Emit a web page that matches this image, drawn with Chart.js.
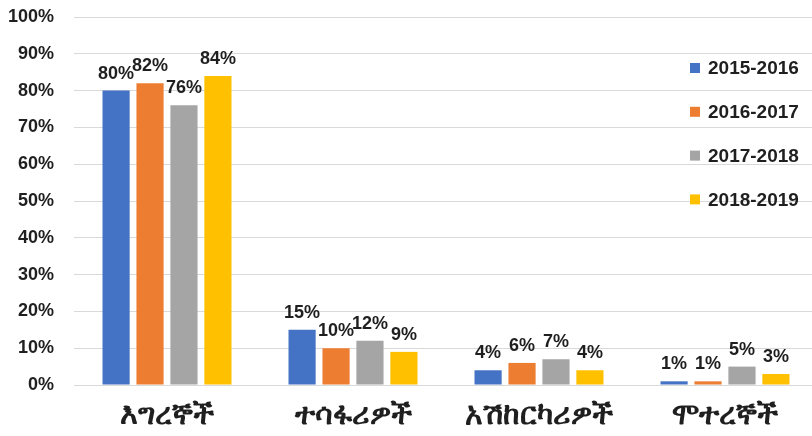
<!DOCTYPE html>
<html>
<head>
<meta charset="utf-8">
<script src="https://cdn.jsdelivr.net/npm/chart.js@4/dist/chart.umd.min.js"></script>
<style>
  html, body { margin: 0; padding: 0; background: #fff; overflow: hidden; }
  #wrap { width: 818px; height: 436px; position: relative; }
  canvas { display: block; }
</style>
</head>
<body>
<div id="wrap"><canvas id="c" width="818" height="436"></canvas></div>
<script>
// Road-accident victims by group, share per fiscal year
const categories = ['እግረኞች', 'ተሳፋሪዎች', 'አሽከርካሪዎች', 'ሞተረኞች'];
const years = ['2015-2016', '2016-2017', '2017-2018', '2018-2019'];
const values2015 = [80, 15, 4, 1];
const values2016 = [82, 10, 6, 1];
const values2017 = [76, 12, 7, 5];
const values2018 = [84, 9, 4, 3];
const yTicks = [0, 10, 20, 30, 40, 50, 60, 70, 80, 90, 100];
const colors = ['#4472C4', '#ED7D31', '#A5A5A5', '#FFC000'];

const series = [values2015, values2016, values2017, values2018];
const FONT = '"Liberation Sans", Arial, sans-serif';
const TEXT = '#1f1f1f';

// Percentage labels above each bar
const valueLabels = {
  id: 'valueLabels',
  afterDatasetsDraw(chart) {
    const ctx = chart.ctx;
    ctx.save();
    ctx.font = 'bold 18px ' + FONT;
    ctx.fillStyle = TEXT;
    ctx.textAlign = 'center';
    ctx.textBaseline = 'bottom';
    chart.data.datasets.forEach((ds, i) => {
      chart.getDatasetMeta(i).data.forEach((bar, j) => {
        ctx.fillText(ds.data[j] + '%', bar.x, bar.y - 8);
      });
    });
    ctx.restore();
  }
};

// Legend stacked inside the plot, near the right edge
const insideLegend = {
  id: 'insideLegend',
  afterDraw(chart) {
    const ctx = chart.ctx;
    const x0 = 690, y0 = 68, step = 43.8;
    ctx.save();
    ctx.font = 'bold 19px ' + FONT;
    ctx.textAlign = 'left';
    ctx.textBaseline = 'middle';
    chart.data.datasets.forEach((ds, i) => {
      const y = y0 + i * step;
      ctx.fillStyle = ds.backgroundColor;
      ctx.fillRect(x0, y - 5, 10, 10);
      ctx.fillStyle = TEXT;
      ctx.fillText(ds.label, x0 + 18, y + 1);
    });
    ctx.restore();
  }
};

new Chart(document.getElementById('c'), {
  type: 'bar',
  data: {
    labels: categories,
    datasets: years.map((y, i) => ({
      label: y,
      data: series[i],
      backgroundColor: colors[i],
      borderWidth: 0,
      categoryPercentage: 0.73,
      barPercentage: 0.8
    }))
  },
  options: {
    responsive: false,
    animation: false,
    devicePixelRatio: 1,
    layout: { padding: { top: 17, right: 0, bottom: 0, left: 0 } },
    plugins: {
      legend: { display: false },
      tooltip: { enabled: false }
    },
    scales: {
      x: {
        grid: { display: false, drawTicks: false },
        border: { display: true, color: '#d9d9d9', width: 1 },
        ticks: {
          color: TEXT,
          padding: 12,
          autoSkip: false,
          maxRotation: 0,
          minRotation: 0,
          font: { family: '"Noto Sans", "DejaVu Sans", sans-serif', size: 30, weight: 'bold' }
        },
        afterFit(scale) { scale.height = 51; }
      },
      y: {
        min: 0,
        max: 100,
        afterBuildTicks(scale) { scale.ticks = yTicks.map(v => ({ value: v })); },
        grid: { color: '#d9d9d9', lineWidth: 1, drawTicks: false },
        border: { display: false },
        ticks: {
          color: TEXT,
          padding: 20,
          autoSkip: false,
          font: { family: FONT, size: 18, weight: 'bold' },
          callback: v => v + '%'
        },
        afterFit(scale) {
          scale.width = 74;
          scale.paddingTop = 0;
          scale.paddingBottom = 0;
        }
      }
    }
  },
  plugins: [valueLabels, insideLegend]
});
</script>
</body>
</html>
